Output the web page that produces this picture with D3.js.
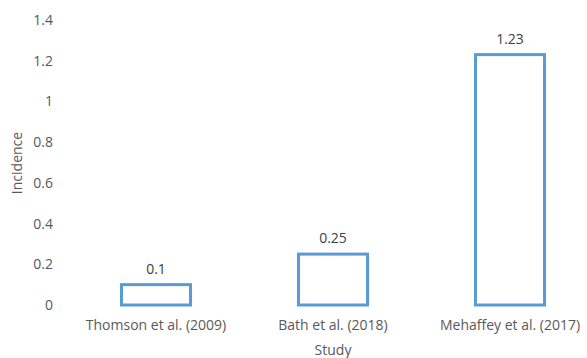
<!DOCTYPE html>
<meta charset="utf-8">
<style>
body { margin: 0; background: #fff; }
text { font-family: "Open Sans", "Liberation Sans", sans-serif; fill: #595959; }
.bar { fill: none; stroke: #5b9bd5; stroke-width: 3; }
</style>
<body>
<script src="https://d3js.org/d3.v7.min.js"></script>
<script>
// chart data
var studies = ["Thomson et al. (2009)", "Bath et al. (2018)", "Mehaffey et al. (2017)"];
var incidence = [0.1, 0.25, 1.23];
var yTicks = [0, 0.2, 0.4, 0.6, 0.8, 1, 1.2, 1.4];

var width = 587, height = 358;

var svg = d3.select("body").append("svg")
    .attr("width", width)
    .attr("height", height);

// set the ranges
var x = d3.scaleBand()
    .domain(studies)
    .range([67.5, 598.5])
    .paddingInner(0.61)
    .paddingOuter(0.305);
var y = d3.scaleLinear()
    .domain([0, 1.4])
    .range([305, 20]);

var data = studies.map(function(s, i) { return {study: s, value: incidence[i]}; });

// bars
svg.selectAll(".bar")
    .data(data)
  .enter().append("rect")
    .attr("class", "bar")
    .attr("x", function(d) { return x(d.study); })
    .attr("width", x.bandwidth())
    .attr("y", function(d) { return y(d.value); })
    .attr("height", function(d) { return y(0) - y(d.value); });

// value labels
svg.selectAll(".val")
    .data(data)
  .enter().append("text")
    .attr("class", "val")
    .attr("x", function(d) { return x(d.study) + x.bandwidth() / 2; })
    .attr("y", function(d) { return y(d.value) - 11; })
    .attr("text-anchor", "middle")
    .attr("font-size", 14)
    .style("fill", "#404040")
    .text(function(d) { return d.value; });

// y axis
var yAxis = svg.append("g")
    .attr("transform", "translate(57,0)")
    .call(d3.axisLeft(y).tickValues(yTicks).tickSize(0).tickPadding(4).tickFormat(d3.format("")));
yAxis.select(".domain").remove();
yAxis.selectAll("text")
    .attr("font-size", 14)
    .attr("font-family", null)
    .attr("fill", null);

// x axis
var xAxis = svg.append("g")
    .attr("transform", "translate(0,320)")
    .call(d3.axisBottom(x).tickSize(0).tickPadding(0));
xAxis.select(".domain").remove();
xAxis.selectAll("text")
    .attr("font-size", 14)
    .attr("font-family", null)
    .attr("fill", null);

// axis titles
svg.append("text")
    .attr("x", 333)
    .attr("y", 355)
    .attr("text-anchor", "middle")
    .attr("font-size", 14)
    .text("Study");

svg.append("text")
    .attr("transform", "translate(22,163) rotate(-90)")
    .attr("text-anchor", "middle")
    .attr("font-size", 14)
    .text("Incidence");
</script>
</body>
